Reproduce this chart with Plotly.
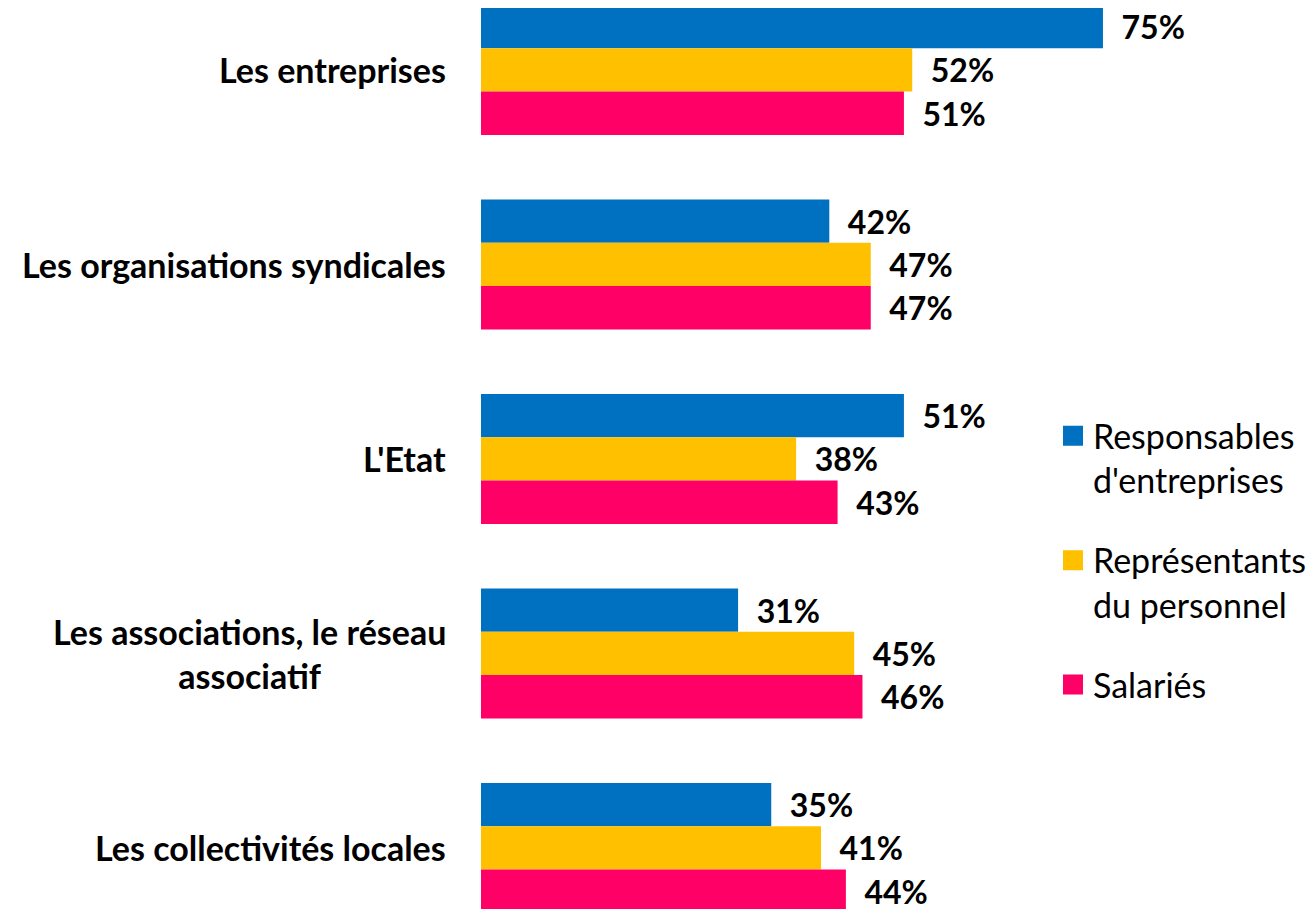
import plotly.graph_objects as go

categories = ["Les entreprises", "Les organisations syndicales", "L'Etat",
              "Les associations, le réseau<br>associatif", "Les collectivités locales"]
series_names = ["Responsables<br>d'entreprises", "Représentants<br>du personnel", "Salariés"]
responsables = [75, 42, 51, 31, 35]
representants = [52, 47, 38, 45, 41]
salaries = [51, 47, 43, 46, 44]
colors = ["#0070C0", "#FFC000", "#FF0066"]

FONT = "Lato"
values = [responsables, representants, salaries]

fig = go.Figure()
for name, vals, col in zip(series_names, values, colors):
    fig.add_trace(go.Bar(
        y=categories, x=vals, orientation="h", name=name,
        marker=dict(color=col, line=dict(width=0)),
        texttemplate="\u00a0\u00a0%{x}%", textposition="outside",
        textfont=dict(family=FONT, size=32, color="#000000", weight="bold"),
        constraintext="none", cliponaxis=False, showlegend=False,
    ))
    # legend-only entry with larger square marker
    fig.add_trace(go.Scatter(
        x=[None], y=[None], mode="markers", name=name, legendgroup=name,
        marker=dict(symbol="square", size=16, color=col, line=dict(color=col, width=4)),
        showlegend=True,
    ))

for cat in categories:
    fig.add_annotation(
        x=0, xref="paper", xanchor="right", xshift=-33,
        y=cat, yref="y", yanchor="middle",
        text="<b>" + cat + "</b>", showarrow=False, align="center",
        font=dict(family=FONT, size=34, color="#000000"),
    )

fig.update_layout(
    width=1308, height=901,
    margin=dict(l=473, r=0, t=0, b=0),
    paper_bgcolor="white", plot_bgcolor="white",
    barmode="group", bargap=0.332, bargroupgap=0,
    font=dict(family=FONT, color="#000000"),
    xaxis=dict(range=[0, 100.69], visible=False, fixedrange=True),
    yaxis=dict(categoryorder="array", categoryarray=categories,
               range=[4.314, -0.3186], showticklabels=False, showgrid=False,
               zeroline=False, showline=False, ticks=""),
    legend=dict(
        x=0.685, xanchor="left", y=0.557, yanchor="top",
        font=dict(family=FONT, size=34, color="#000000"),
        traceorder="grouped", tracegroupgap=33, valign="top",
        itemwidth=30, bgcolor="rgba(0,0,0,0)",
    ),
)

fig.write_html("out.html")
